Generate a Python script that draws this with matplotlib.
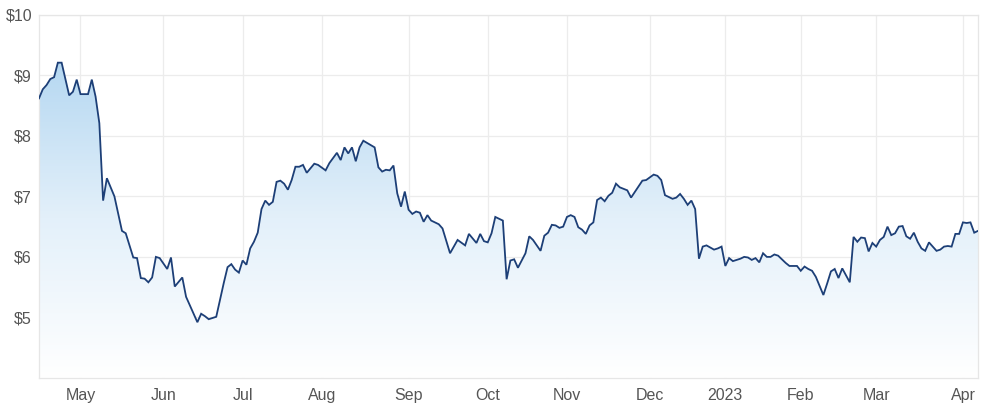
import numpy as np
import pandas as pd
import matplotlib
matplotlib.use("Agg")
import matplotlib.pyplot as plt
from matplotlib.colors import LinearSegmentedColormap

# ASX trading calendar (x axis is one slot per session)
holidays = ['2022-04-15', '2022-04-18', '2022-04-25', '2022-06-13', '2022-09-22',
            '2022-12-26', '2022-12-27', '2023-01-02', '2023-01-26', '2023-04-07',
            '2023-04-10']
cal = pd.bdate_range('2022-04-12', '2023-04-11')
cal = cal[~cal.isin(pd.to_datetime(holidays))]

# session number (0 = first session shown) and close price
session = [0, 1, 2, 3, 4, 5, 6, 8, 9, 10, 11, 13, 14, 15, 16, 17, 18, 20, 22, 23,
           25, 26, 27, 28, 29, 30, 31, 32, 34, 35, 36, 38, 39, 42, 43, 44, 45, 47, 49, 50,
           51, 52, 53, 54, 55, 56, 57, 58, 59, 60, 61, 62, 63, 64, 65, 66, 67, 68, 69, 70,
           71, 73, 74, 76, 77, 79, 80, 81, 82, 83, 84, 85, 86, 89, 90, 91, 92, 93, 94, 95,
           96, 97, 98, 99, 100, 101, 102, 103, 104, 105, 106, 107, 109, 111, 113, 114, 116, 117, 118, 119,
           120, 121, 123, 124, 125, 126, 127, 129, 130, 131, 133, 134, 135, 136, 137, 138, 139, 140, 141, 142,
           143, 144, 145, 146, 147, 148, 149, 150, 151, 152, 153, 154, 156, 157, 160, 161, 163, 164, 165, 166,
           168, 169, 170, 171, 172, 173, 174, 175, 176, 177, 179, 180, 181, 182, 183, 184, 186, 187, 188, 189,
           190, 191, 192, 193, 194, 195, 196, 198, 199, 201, 202, 203, 204, 205, 206, 208, 209, 210, 211, 212,
           213, 215, 216, 217, 218, 219, 220, 221, 222, 223, 224, 225, 226, 227, 228, 229, 230, 231, 232, 233,
           234, 235, 236, 237, 238, 239, 240, 241, 242, 243, 244, 245, 246, 247, 248, 249]
price = [8.62, 8.77, 8.84, 8.94, 8.97, 9.21, 9.21, 8.67, 8.73, 8.93, 8.69, 8.69, 8.93, 8.65, 8.21, 6.93, 7.30, 7.00, 6.43, 6.39,
         5.99, 5.98, 5.65, 5.64, 5.58, 5.66, 6.00, 5.98, 5.80, 5.99, 5.51, 5.66, 5.34, 4.92, 5.06, 5.02, 4.97, 5.01, 5.57, 5.83,
         5.88, 5.79, 5.74, 5.94, 5.87, 6.14, 6.25, 6.40, 6.79, 6.93, 6.86, 6.91, 7.24, 7.26, 7.21, 7.11, 7.27, 7.49, 7.49, 7.52,
         7.39, 7.54, 7.52, 7.43, 7.55, 7.72, 7.60, 7.81, 7.71, 7.81, 7.58, 7.81, 7.92, 7.81, 7.48, 7.41, 7.44, 7.43, 7.51, 7.05,
         6.83, 7.08, 6.78, 6.71, 6.75, 6.73, 6.58, 6.69, 6.60, 6.57, 6.54, 6.47, 6.06, 6.28, 6.19, 6.38, 6.23, 6.38, 6.26, 6.24,
         6.39, 6.66, 6.60, 5.63, 5.94, 5.96, 5.82, 6.06, 6.34, 6.28, 6.10, 6.35, 6.40, 6.53, 6.52, 6.48, 6.50, 6.66, 6.69, 6.66,
         6.49, 6.45, 6.38, 6.52, 6.57, 6.94, 6.98, 6.92, 7.01, 7.06, 7.21, 7.15, 7.10, 6.98, 7.26, 7.27, 7.36, 7.34, 7.27, 7.02,
         6.96, 6.98, 7.04, 6.96, 6.86, 6.93, 6.79, 5.97, 6.17, 6.19, 6.12, 6.14, 6.17, 5.85, 5.98, 5.93, 5.97, 6.00, 5.99, 5.95,
         5.98, 5.91, 6.06, 6.00, 6.00, 6.04, 6.02, 5.90, 5.85, 5.85, 5.77, 5.84, 5.80, 5.77, 5.67, 5.37, 5.56, 5.76, 5.80, 5.65,
         5.81, 5.58, 6.33, 6.25, 6.32, 6.31, 6.09, 6.23, 6.17, 6.28, 6.33, 6.50, 6.36, 6.39, 6.50, 6.51, 6.34, 6.30, 6.40, 6.25,
         6.14, 6.10, 6.24, 6.17, 6.10, 6.12, 6.17, 6.18, 6.17, 6.38, 6.38, 6.57, 6.56, 6.57, 6.40, 6.43]

y_ticks = [5, 6, 7, 8, 9, 10]

# first session of each month -> month label ("2023" for January)
months = pd.Series(cal.to_period('M'))
first = months.ne(months.shift()).to_numpy()
first[0] = False
month_pos = np.where(first)[0]
month_lab = [d.strftime('%b') if d.month != 1 else str(d.year) for d in cal[month_pos]]

plt.rcParams['font.family'] = ['Liberation Sans', 'DejaVu Sans']

fig = plt.figure(figsize=(10, 4.13), dpi=100)
ax = fig.add_axes([0.039, 0.085, 0.939, 0.879])

x = np.array(session)
y = np.array(price)

ax.set_xlim(0, len(cal) - 1)
ax.set_ylim(4, 10)

# gradient fill under the line
cmap = LinearSegmentedColormap.from_list('fill', ['#ffffff', '#e3f0fa', '#b4d7f1'])
grad = np.linspace(0, 1, 256).reshape(-1, 1)
img = ax.imshow(grad, cmap=cmap, aspect='auto', origin='lower',
                extent=[0, len(cal) - 1, 4, 9.3], zorder=1)
poly = ax.fill_between(x, y, 4, color='none')
img.set_clip_path(poly.get_paths()[0], transform=ax.transData)

ax.plot(x, y, color='#1d3f77', lw=1.3, zorder=3, solid_joinstyle='miter')

ax.set_yticks(y_ticks)
ax.set_yticklabels(['$%d' % v for v in y_ticks])
ax.set_xticks(month_pos)
ax.set_xticklabels(month_lab)
ax.tick_params(length=0, labelsize=11.5, colors='#555555')
ax.tick_params(axis='y', pad=5)
ax.tick_params(axis='x', pad=7)

ax.grid(True, color='#ececec', lw=0.9, zorder=0)
ax.set_axisbelow(True)
for s in ax.spines.values():
    s.set_color('#e6e6e6')
    s.set_linewidth(0.9)

fig.savefig('out.png', dpi=100)
